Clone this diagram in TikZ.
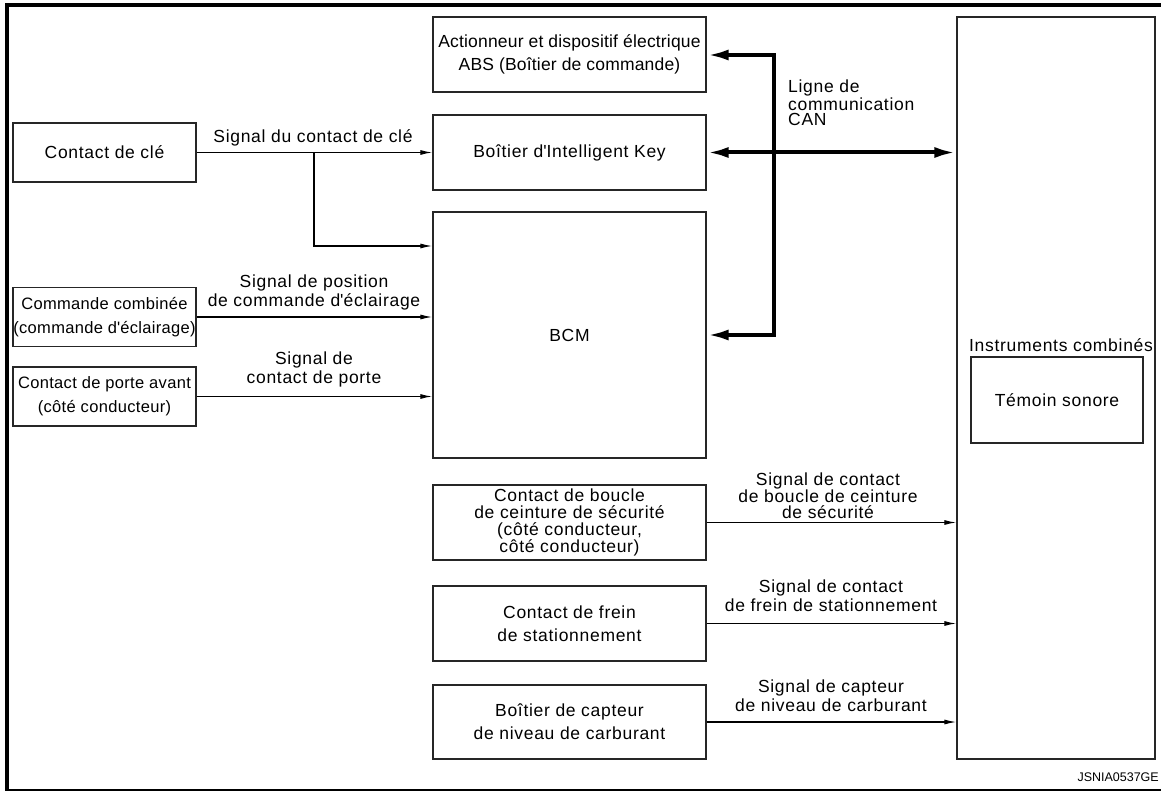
\documentclass[tikz,border=0pt]{standalone}
\usepackage{fontspec}
\setmainfont{Liberation Sans}[LetterSpace=4]
\usetikzlibrary{arrows.meta}
\newcommand{\mainsz}{\fontsize{17.5}{23}\selectfont}
\newcommand{\leftsz}{\fontsize{16.5}{24}\selectfont\addfontfeature{LetterSpace=2}}
\newcommand{\lblsz}{\fontsize{17.5}{19}\selectfont}
\newcommand{\seatsz}{\fontsize{17.5}{16.7}\selectfont}
\newcommand{\cansz}{\fontsize{17.5}{15.5}\selectfont}
\newcommand{\codesz}{\fontsize{12.5}{14}\selectfont\addfontfeature{LetterSpace=0}}
\tikzset{
  box/.style={draw=black!85, line width=1.3pt, inner sep=0pt, align=center, font=\mainsz},
  lbl/.style={inner sep=0pt, align=center, font=\lblsz},
  sig/.style={draw=black, line width=1.2pt, -{Latex[length=12pt,width=5pt]}},
  canbus/.style={draw=black, line width=4pt, line join=miter, line cap=butt},
  canhead/.style={{Latex[length=22pt,width=11pt]}-{Latex[length=22pt,width=11pt]}},
  frame/.style={draw=black, line cap=butt}
}
\begin{document}
\begin{tikzpicture}[x=1pt,y=-1pt]
\useasboundingbox (0,0) rectangle (1161,791);
% frame
\draw[frame, line width=3.5pt] (5.3,5) -- (1161,5);
\draw[frame, line width=3.5pt] (7,3.3) -- (7,790);
\draw[frame, line width=1.4pt] (5.3,790) -- (1161,790);

% boxes
\node[box, minimum width=183pt, minimum height=59pt] (key) at (104.5,152.5) {Contact de clé};
\node[box, minimum width=273pt, minimum height=75pt, font=\mainsz\addfontfeature{LetterSpace=1}] (abs) at (569.5,54.5) {Actionneur et dispositif électrique\\ABS (Boîtier de commande)};
\node[box, minimum width=273pt, minimum height=75pt] (ik) at (569.5,152.5) {Boîtier d\textquotesingle Intelligent Key};
\node[box, minimum width=273pt, minimum height=246pt] (bcm) at (569.5,335) {BCM};
\node[box, minimum width=183pt, minimum height=59pt, font=\leftsz] (cmd) at (104.5,317) {Commande combinée\\(commande d\textquotesingle éclairage)};
\node[box, minimum width=183pt, minimum height=59pt, font=\leftsz] (porte) at (104.5,396.5) {Contact de porte avant\\(côté conducteur)};
\node[box, minimum width=198pt, minimum height=742pt] (instr) at (1056,388) {};
\node[lbl] (instrlbl) at (1061,345) {Instruments combinés};
\node[box, minimum width=172pt, minimum height=86pt] (temoin) at (1057,400) {Témoin sonore};
\node[box, minimum width=273pt, minimum height=75pt, font=\seatsz] (seat) at (569.5,522.5) {Contact de boucle\\de ceinture de sécurité\\(côté conducteur,\\côté conducteur)};
\node[box, minimum width=273pt, minimum height=75pt] (frein) at (569.5,623.5) {Contact de frein\\de stationnement};
\node[box, minimum width=273pt, minimum height=74pt] (carb) at (569.5,722) {Boîtier de capteur\\de niveau de carburant};

% labels
\node[lbl] (lkey) at (313,138) {Signal du contact de clé};
\node[lbl] (lpos) at (314,292) {Signal de position\\de commande d\textquotesingle éclairage};
\node[lbl] (lporte) at (314,369) {Signal de\\contact de porte};
\node[lbl, font=\cansz, align=left, anchor=west] (lcan) at (788,103) {Ligne de\\communication\\CAN};
\node[lbl, font=\seatsz] (lseat) at (828,496) {Signal de contact\\de boucle de ceinture\\de sécurité};
\node[lbl] (lfrein) at (831,595.5) {Signal de contact\\de frein de stationnement};
\node[lbl] (lcarb) at (831,695.5) {Signal de capteur\\de niveau de carburant};
\node[inner sep=0pt, anchor=east, font=\codesz] (code) at (1159,777.5) {JSNIA0537GE};

% signal connectors
\coordinate (br) at (314,152.5);
\draw[sig] (key.east) -- (ik.west);
\draw[sig] (br) |- (bcm.west |- 0,246);
\draw[sig] (cmd.east) -- (cmd.east -| bcm.west);
\draw[sig] (porte.east) -- (porte.east -| bcm.west);
\draw[sig] (seat.east) -- (seat.east -| instr.west);
\draw[sig] (frein.east) -- (frein.east -| instr.west);
\draw[sig] (carb.east) -- (carb.east -| instr.west);

% CAN bus
\coordinate (cantop) at (774,55);
\coordinate (canbot) at (774,335);
\draw[canbus, canhead] (abs.east |- cantop) -- (cantop) -- (canbot) -- (bcm.east |- canbot);
\draw[canbus, canhead] (ik.east) -- (ik.east -| instr.west);
\end{tikzpicture}
\end{document}
